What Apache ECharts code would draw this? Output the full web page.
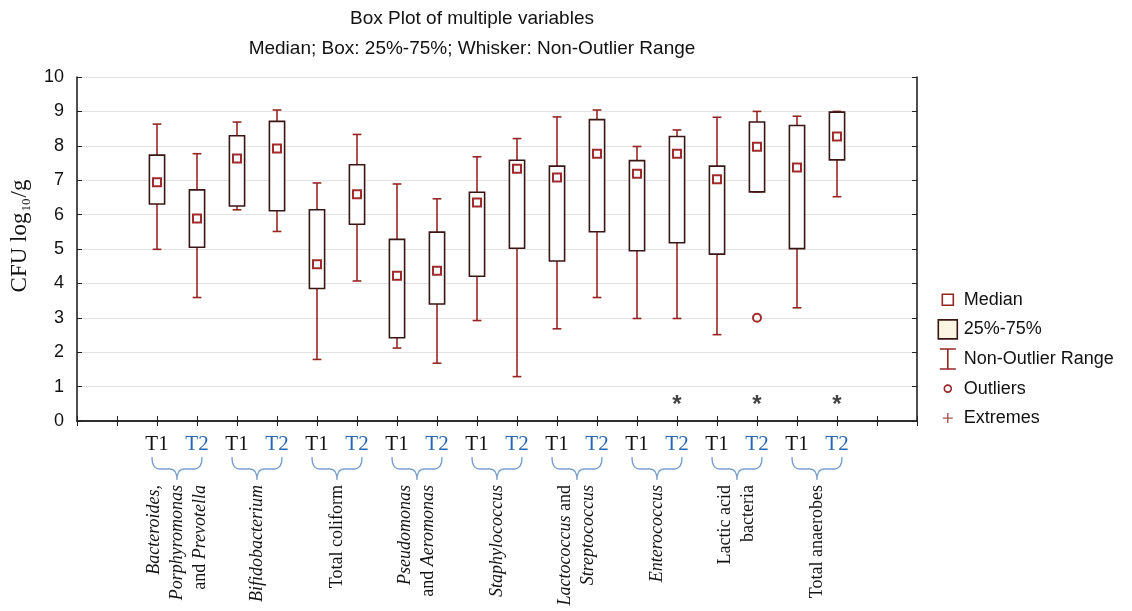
<!DOCTYPE html>
<html>
<head>
<meta charset="utf-8">
<script src="https://cdn.jsdelivr.net/npm/echarts@6/dist/echarts.min.js"></script>
<style>
html, body { margin: 0; padding: 0; background: #fff; }
#main { width: 1132px; height: 611px; }
</style>
</head>
<body>
<div id="main"></div>
<script>
// groups of bacteria, each measured at T1 and T2
var groups = ['Bacteroides, Porphyromonas and Prevotella', 'Bifidobacterium', 'Total coliform',
    'Pseudomonas and Aeromonas', 'Staphylococcus', 'Lactococcus and Streptococcus',
    'Enterococcus', 'Lactic acid bacteria', 'Total anaerobes'];
var groupLabels = [
    '{i|Bacteroides,}\n{i|Porphyromonas}\n{n|and }{i|Prevotella}',
    '{i|Bifidobacterium}',
    '{n|Total coliform}',
    '{i|Pseudomonas}\n{n|and }{i|Aeromonas}',
    '{i|Staphylococcus}',
    '{i|Lactococcus}{n| and}\n{i|Streptococcus}',
    '{i|Enterococcus}',
    '{n|Lactic acid}\n{n|bacteria}',
    '{n|Total anaerobes}'
];
var periods = ['T1', 'T2'];

// one entry per box: group1 T1, group1 T2, group2 T1, ...
var whiskerHigh = [8.63, 7.77, 8.69, 9.04, 6.92, 8.33, 6.89, 6.46, 7.68, 8.21, 8.84, 9.04, 7.98, 8.46, 8.83, 9.00, 8.86, 9.00];
var q3 =          [7.73, 6.72, 8.29, 8.71, 6.14, 7.45, 5.28, 5.49, 6.65, 7.58, 7.41, 8.76, 7.57, 8.27, 7.41, 8.69, 8.59, 8.98];
var median =      [6.94, 5.89, 7.63, 7.92, 4.56, 6.59, 4.22, 4.37, 6.35, 7.33, 7.08, 7.77, 7.19, 7.77, 7.03, 7.97, 7.37, 8.27];
var q1 =          [6.31, 5.05, 6.25, 6.11, 3.85, 5.72, 2.42, 3.40, 4.21, 5.02, 4.65, 5.50, 4.95, 5.18, 4.85, 6.66, 5.01, 7.59];
var whiskerLow =  [4.99, 3.59, 6.14, 5.51, 1.79, 4.07, 2.12, 1.68, 2.92, 1.29, 2.68, 3.59, 2.98, 2.98, 2.51, 6.66, 3.29, 6.52];

// outliers: [box index, value]
var outliers = [[15, 3.0]];
// boxes marked with an asterisk
var starBoxes = [13, 15, 17];
var starValue = 0.6;

var yTicks = [0, 10, 1]; // min, max, interval

// two empty slots each side of the boxes
var lead = 2;
var slots = ['', ''];
groups.forEach(function () { slots.push(periods[0], periods[1]); });
slots.push('', '');

var groupSlots = [];
for (var k = 0; k < slots.length - 1; k++) groupSlots.push('');
groupLabels.forEach(function (g, i) { groupSlots[lead + i * 2] = g; });

var boxData = median.map(function (m, i) {
    return [i + lead, whiskerLow[i], q1[i], m, q3[i], whiskerHigh[i]];
});
var medianData = median.map(function (m, i) { return [i + lead, m]; });
var outlierData = outliers.map(function (o) { return [o[0] + lead, o[1]]; });
var starData = starBoxes.map(function (b) { return [b + lead, starValue]; });
var bracketData = groups.map(function (g, i) { return [lead + i * 2, lead + i * 2 + 1, 0]; });

var boxEdge = '#3a1515';
var red = '#962626';
var frame = '#222';

function renderWhisker(params, api) {
    var x = api.value(0);
    var band = api.size([1, 0])[0];
    var cap = band * 0.22;
    var lo = api.coord([x, api.value(1)]);
    var b = api.coord([x, api.value(2)]);
    var t = api.coord([x, api.value(4)]);
    var hi = api.coord([x, api.value(5)]);
    var st = { stroke: red, lineWidth: 1.6 };
    return {
        type: 'group',
        children: [
            { type: 'line', shape: { x1: t[0], y1: t[1], x2: hi[0], y2: hi[1] }, style: st },
            { type: 'line', shape: { x1: hi[0] - cap / 2, y1: hi[1], x2: hi[0] + cap / 2, y2: hi[1] }, style: st },
            { type: 'line', shape: { x1: b[0], y1: b[1], x2: lo[0], y2: lo[1] }, style: st },
            { type: 'line', shape: { x1: lo[0] - cap / 2, y1: lo[1], x2: lo[0] + cap / 2, y2: lo[1] }, style: st }
        ]
    };
}

function renderBox(params, api) {
    var x = api.value(0);
    var w = api.size([1, 0])[0] * 0.38;
    var b = api.coord([x, api.value(2)]);
    var t = api.coord([x, api.value(4)]);
    return {
        type: 'rect',
        shape: { x: t[0] - w / 2, y: t[1], width: w, height: b[1] - t[1] },
        style: { fill: '#fff', stroke: boxEdge, lineWidth: 1.6 }
    };
}

function renderBracket(params, api) {
    var a = api.coord([api.value(0), 0]);
    var b = api.coord([api.value(1), 0]);
    var y0 = a[1] + 36, y1 = y0 + 12, y2 = y0 + 23;
    var xa = a[0] - 5, xb = b[0] + 5, mid = (a[0] + b[0]) / 2;
    var d = 'M' + xa + ',' + y0 + ' Q' + xa + ',' + y1 + ' ' + (xa + 8) + ',' + y1 +
        ' L' + (mid - 7) + ',' + y1 + ' Q' + mid + ',' + y1 + ' ' + mid + ',' + y2 +
        ' Q' + mid + ',' + y1 + ' ' + (mid + 7) + ',' + y1 +
        ' L' + (xb - 8) + ',' + y1 + ' Q' + xb + ',' + y1 + ' ' + xb + ',' + y0;
    return {
        type: 'path',
        shape: { pathData: d },
        style: { fill: 'none', stroke: '#7a9ed0', lineWidth: 1.3 }
    };
}

var pad = 'M0,0M22,22';
var option = {
    animation: false,
    title: {
        text: 'Box Plot of multiple variables',
        subtext: 'Median; Box: 25%-75%; Whisker: Non-Outlier Range',
        left: 467,
        top: 3,
        textAlign: 'center',
        itemGap: 8,
        textStyle: { fontFamily: 'Liberation Sans', fontSize: 19, fontWeight: 'normal', color: '#111', lineHeight: 22 },
        subtextStyle: { fontFamily: 'Liberation Sans', fontSize: 19, color: '#111', lineHeight: 22 }
    },
    legend: {
        orient: 'vertical',
        left: 931,
        top: 283,
        itemWidth: 22,
        itemHeight: 22,
        itemGap: 6,
        selectedMode: false,
        textStyle: { fontFamily: 'Liberation Sans', fontSize: 18, color: '#111' },
        data: [
            { name: 'Median', icon: 'path://' + pad + 'M5.5,5.5H16.5V16.5H5.5Z',
              itemStyle: { color: '#fff', borderColor: red, borderWidth: 1.6 } },
            { name: '25%-75%', icon: 'path://' + pad + 'M1.5,1.5H20.5V20.5H1.5Z',
              itemStyle: { color: '#fdf5e4', borderColor: boxEdge, borderWidth: 1.6 } },
            { name: 'Non-Outlier Range', icon: 'path://' + pad + 'M3,1H19M11,1V21M3,21H19',
              itemStyle: { color: 'rgba(0,0,0,0)', borderColor: red, borderWidth: 1.6 } },
            { name: 'Outliers', icon: 'path://' + pad + 'M7.5,11A3.5,3.5 0 1,0 14.5,11A3.5,3.5 0 1,0 7.5,11Z',
              itemStyle: { color: '#fff', borderColor: red, borderWidth: 1.6 } },
            { name: 'Extremes', icon: 'path://' + pad + 'M6,11H16M11,6V16',
              itemStyle: { color: 'rgba(0,0,0,0)', borderColor: red, borderWidth: 1.4 } }
        ]
    },
    grid: { left: 73, right: 215, top: 77, bottom: 190 },
    xAxis: [
        {
            type: 'category',
            data: slots,
            boundaryGap: false,
            axisLine: { lineStyle: { color: frame, width: 1.6 } },
            axisTick: { inside: true, length: 5, interval: 0, lineStyle: { color: frame } },
            axisLabel: {
                interval: 0,
                margin: 13,
                fontFamily: 'Liberation Serif',
                fontSize: 21,
                formatter: function (v) {
                    if (v === periods[0]) return '{a|' + v + '}';
                    if (v === periods[1]) return '{b|' + v + '}';
                    return '';
                },
                rich: {
                    a: { color: '#111', fontFamily: 'Liberation Serif', fontSize: 21 },
                    b: { color: '#2a66b0', fontFamily: 'Liberation Serif', fontSize: 21 }
                }
            },
            splitLine: { show: false }
        },
        {
            type: 'category',
            data: slots,
            boundaryGap: false,
            position: 'top',
            axisLine: { lineStyle: { color: frame, width: 1.6 } },
            axisTick: { inside: true, length: 5, interval: 0, lineStyle: { color: frame } },
            axisLabel: { show: false }
        },
        {
            type: 'category',
            data: groupSlots,
            boundaryGap: true,
            position: 'bottom',
            axisLine: { show: false },
            axisTick: { show: false },
            axisLabel: {
                interval: 0,
                rotate: 90,
                margin: 64,
                lineHeight: 23,
                color: '#111',
                rich: {
                    i: { fontFamily: 'Liberation Serif', fontStyle: 'italic', fontSize: 18, lineHeight: 23, color: '#111' },
                    n: { fontFamily: 'Liberation Serif', fontSize: 18, lineHeight: 23, color: '#111' }
                }
            }
        }
    ],
    yAxis: [
        {
            type: 'value',
            min: yTicks[0],
            max: yTicks[1],
            interval: yTicks[2],
            name: '{m|CFU log}{s|10}{m|/g}',
            nameLocation: 'middle',
            nameRotate: 90,
            nameGap: 44,
            nameTextStyle: {
                padding: [0, 0, 0, 26],
                rich: {
                    m: { fontFamily: 'Liberation Serif', fontSize: 23, color: '#111', lineHeight: 27 },
                    s: { fontFamily: 'Liberation Serif', fontSize: 13, color: '#111', lineHeight: 27, verticalAlign: 'bottom', padding: [0, 1, 0, 1] }
                }
            },
            axisLine: { show: true, lineStyle: { color: frame, width: 1.6 } },
            axisTick: { show: true, inside: true, length: 5, lineStyle: { color: frame } },
            axisLabel: { fontFamily: 'Liberation Sans', fontSize: 18, color: '#111', margin: 13 },
            splitLine: { lineStyle: { color: '#e3e3e3', width: 1 } }
        },
        {
            type: 'value',
            position: 'right',
            min: yTicks[0],
            max: yTicks[1],
            interval: yTicks[2],
            axisLine: { show: true, lineStyle: { color: frame, width: 1.6 } },
            axisTick: { show: true, inside: true, length: 5, lineStyle: { color: frame } },
            axisLabel: { show: false },
            splitLine: { show: false }
        }
    ],
    series: [
        {
            name: 'Non-Outlier Range',
            type: 'custom',
            renderItem: renderWhisker,
            encode: { x: 0, y: [1, 2, 3, 4, 5] },
            data: boxData,
            z: 3
        },
        {
            name: '25%-75%',
            type: 'custom',
            renderItem: renderBox,
            encode: { x: 0, y: [1, 2, 3, 4, 5] },
            data: boxData,
            z: 4
        },
        {
            name: 'Median',
            type: 'scatter',
            symbol: 'rect',
            symbolSize: 8,
            itemStyle: { color: '#fff', borderColor: '#a32a2a', borderWidth: 2, opacity: 1 },
            data: medianData,
            z: 5
        },
        {
            name: 'Outliers',
            type: 'scatter',
            symbol: 'circle',
            symbolSize: 8,
            itemStyle: { color: '#fff', borderColor: '#a32a2a', borderWidth: 2, opacity: 1 },
            data: outlierData,
            z: 5
        },
        {
            name: 'Extremes',
            type: 'scatter',
            symbol: 'path://M0,5H10M5,0V10',
            symbolSize: 10,
            itemStyle: { color: 'rgba(0,0,0,0)', borderColor: red, borderWidth: 1.4 },
            data: []
        },
        {
            name: 'sig',
            type: 'scatter',
            symbolSize: 2,
            itemStyle: { color: 'rgba(0,0,0,0)' },
            label: {
                show: true,
                position: 'inside',
                formatter: '*',
                offset: [0, 5],
                fontFamily: 'Liberation Sans',
                fontSize: 24,
                fontWeight: 'bold',
                color: '#111'
            },
            data: starData,
            z: 5
        },
        {
            name: 'brackets',
            type: 'custom',
            renderItem: renderBracket,
            clip: false,
            encode: { x: [0, 1], y: 2 },
            data: bracketData,
            silent: true
        }
    ]
};

var chart = echarts.init(document.getElementById('main'));
chart.setOption(option);
</script>
</body>
</html>
